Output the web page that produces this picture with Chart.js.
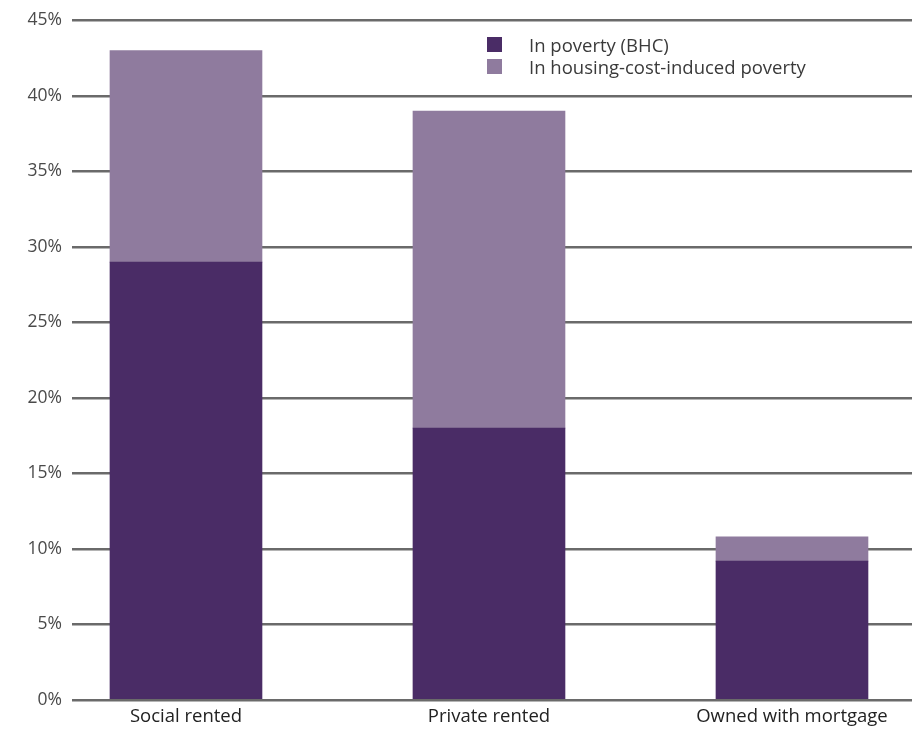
<!DOCTYPE html>
<html>
<head>
<meta charset="utf-8">
<script src="https://cdn.jsdelivr.net/npm/chart.js@4"></script>
<style>
  html, body { margin: 0; padding: 0; background: #fff; overflow: hidden; }
  #wrap { position: relative; width: 912px; height: 729px; }
  #legend { position: absolute; left: 487px; top: 33px; font-family: "Open Sans", sans-serif; font-size: 18.5px; color: #3a3a3a; }
  #legend div { display: flex; align-items: center; height: 22px; }
  #legend span.box { display: inline-block; width: 15px; height: 15px; margin-right: 27px; }
</style>
</head>
<body>
<div id="wrap">
  <canvas id="chart"></canvas>
  <div id="legend"></div>
</div>
<script>
// data (percent)
const categories = ['Social rented', 'Private rented', 'Owned with mortgage'];
const inPovertyBHC = [29, 18, 9.2];
const housingCostInduced = [14, 21, 1.6];
const yTicks = [0, 5, 10, 15, 20, 25, 30, 35, 40, 45];

const darkPurple = '#4a2c66';
const lightPurple = '#8f7b9e';

// linear x so bar centres land where the original has them
const toPoints = arr => arr.map((v, i) => ({ x: i, y: v }));

const datasets = [
  { label: 'In poverty (BHC)', data: toPoints(inPovertyBHC), backgroundColor: darkPurple },
  { label: 'In housing-cost-induced poverty', data: toPoints(housingCostInduced), backgroundColor: lightPurple }
];

const chart = new Chart(document.getElementById('chart'), {
  type: 'bar',
  data: { datasets: datasets.map(d => Object.assign({ barThickness: 152, borderWidth: 0 }, d)) },
  options: {
    responsive: true,
    maintainAspectRatio: false,
    animation: false,
    layout: { padding: { top: 19, right: 0, bottom: 0, left: 0 } },
    plugins: { legend: { display: false }, tooltip: { enabled: false } },
    scales: {
      x: {
        type: 'linear',
        stacked: true,
        offset: false,
        min: -0.3762,
        max: 2.3961,
        afterFit: s => { s.height = 29; },
        grid: { display: false, drawTicks: false },
        border: { display: false },
        ticks: {
          stepSize: 1,
          includeBounds: false,
          autoSkip: false,
          maxRotation: 0,
          padding: 7,
          color: '#222',
          font: { family: 'Open Sans', size: 18.5, lineHeight: 1 },
          callback: v => categories[v] ?? ''
        }
      },
      y: {
        stacked: true,
        min: 0,
        max: 45,
        afterBuildTicks: s => { s.ticks = yTicks.map(v => ({ value: v })); },
        afterFit: s => { s.width = 72; },
        grid: { color: '#6a6a6a', lineWidth: 2.5, drawTicks: false },
        border: { display: false },
        ticks: {
          padding: 10,
          color: '#4a4a4a',
          font: { family: 'Open Sans', size: 17.5 },
          callback: v => v + '%'
        }
      }
    }
  }
});

// legend stacked vertically, like the original
const legend = document.getElementById('legend');
datasets.forEach(d => {
  const row = document.createElement('div');
  row.innerHTML = '<span class="box" style="background:' + d.backgroundColor + '"></span>' + d.label;
  legend.appendChild(row);
});
</script>
</body>
</html>
